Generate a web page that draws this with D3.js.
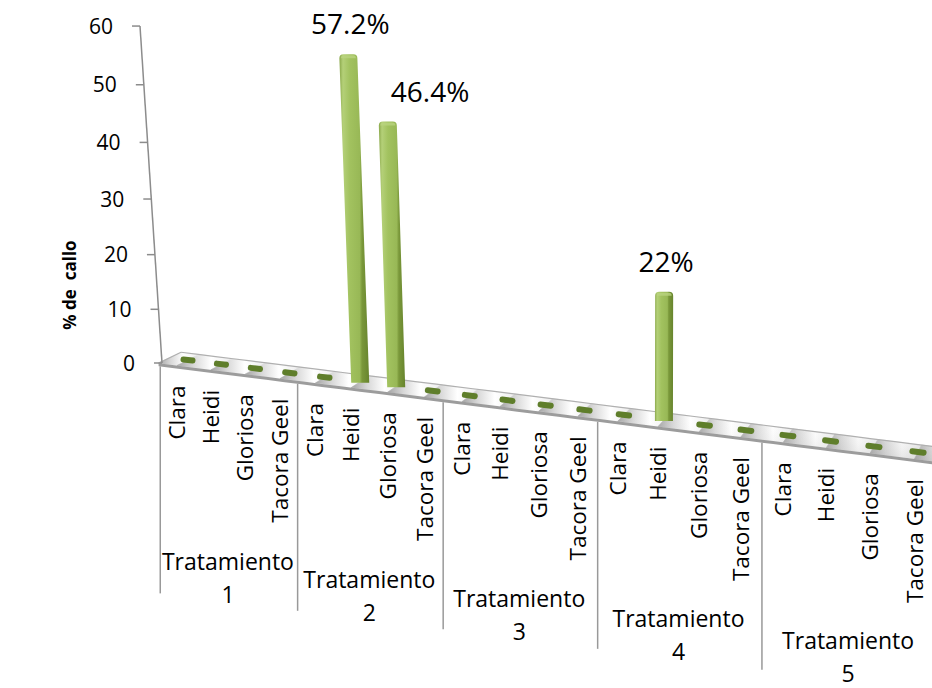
<!DOCTYPE html>
<html>
<head>
<meta charset="utf-8">
<script src="https://cdn.jsdelivr.net/npm/d3@7"></script>
<style>
  html, body { margin: 0; padding: 0; background: #ffffff; }
  svg { display: block; }
  text { font-family: "Open Sans", "DejaVu Sans", sans-serif; fill: #000; }
</style>
</head>
<body>
<svg id="chart" width="932" height="688"></svg>
<script>
// ---- data ----
const treatments = ["Tratamiento 1", "Tratamiento 2", "Tratamiento 3", "Tratamiento 4", "Tratamiento 5"];
const varieties = ["Clara", "Heidi", "Gloriosa", "Tacora Geel"];
const callusT1 = [0, 0, 0, 0];
const callusT2 = [0, 57.2, 46.4, 0];
const callusT3 = [0, 0, 0, 0];
const callusT4 = [0, 22, 0, 0];
const callusT5 = [0, 0, 0, 0];
const yTicks = [0, 10, 20, 30, 40, 50, 60];
const yTitle = "% de  callo";

const seriesByTreatment = [callusT1, callusT2, callusT3, callusT4, callusT5];
const rows = [];
treatments.forEach((t, g) => varieties.forEach((v, j) => {
  rows.push({ treatment: t, variety: v, value: seriesByTreatment[g][j], key: t + "|" + v, group: g });
}));

const svg = d3.select("#chart");
const defs = svg.append("defs");

// ---- scales (world space) ----
const slot = d3.scalePoint().domain(rows.map(d => d.key)).range([0, 1]);   // position along the floor
const step = slot.step();                                                   // one category in floor units
const height01 = d3.scaleLinear().domain([0, 60]).range([0, 1]);           // value -> normalized height

// ---- perspective projection of the 3-D box onto the page ----
const floorX = s => (188 + 605.7 * s) / (1 - 0.1354 * s);                 // centre line x
const floorY = x => 360 + 0.126 * (x - 188);                               // centre line y
const depthDX = d3.scaleLinear().domain([0, 1]).range([11, 3.5]);          // half-depth of floor slab
const depthDY = d3.scaleLinear().domain([0, 1]).range([-5.5, -7]);
const nearScale = d3.scaleLinear().domain([0, 1]).range([0.99, 1.112]);   // foreshortening of heights
const wallY = t => (363 - 338.3 * t) / (1 - 0.052 * t);                    // height on the back axis
const axisX = y => 162 - 22 * (363 - y) / 337;                             // tilted value axis
const lean = x => (x - 650) / 8000;                                        // vertical convergence

const centre = s => { const x = floorX(s); return { x, y: floorY(x) }; };
const front = s => { const c = centre(s); return { x: c.x - depthDX(s), y: c.y - depthDY(s) }; };
const back = s => { const c = centre(s); return { x: c.x + depthDX(s), y: c.y + depthDY(s) }; };
const barHeight = (v, s) => (363 - wallY(height01(v))) * nearScale(s);

// ---- gradients ----
const barGrad = defs.append("linearGradient").attr("id", "barGrad").attr("x1", 0).attr("x2", 1).attr("y1", 0).attr("y2", 0);
[[0, "#8aa84a"], [0.12, "#b4d078"], [0.35, "#a2c25f"], [0.68, "#98b856"], [0.76, "#7a983a"], [1, "#67842d"]]
  .forEach(([o, c]) => barGrad.append("stop").attr("offset", o).attr("stop-color", c));

const cellGrad = defs.append("linearGradient").attr("id", "cellGrad").attr("x1", 0).attr("x2", 1).attr("y1", 0).attr("y2", 0);
[[0, "#a4a4a4"], [0.3, "#d8d8d8"], [0.62, "#ffffff"], [1, "#ececec"]]
  .forEach(([o, c]) => cellGrad.append("stop").attr("offset", o).attr("stop-color", c));

const depthGrad = defs.append("linearGradient").attr("id", "depthGrad").attr("x1", 0).attr("x2", 0).attr("y1", 0).attr("y2", 1);
[[0, "#ffffff", 0.0], [0.55, "#ffffff", 0.0], [1, "#9a9a9a", 0.35]]
  .forEach(([o, c, a]) => depthGrad.append("stop").attr("offset", o).attr("stop-color", c).attr("stop-opacity", a));

// ---- floor slab ----
const sStart = slot(rows[0].key) - 0.55 * step;
const sEnd = slot(rows[rows.length - 1].key) + 1.5 * step;
const samples = d3.range(0, 41).map(i => sStart + (sEnd - sStart) * i / 40);
const floorG = svg.append("g");

// per-category shading cells along the slab
const cellEdges = [sStart].concat(d3.range(0, 21).map(i => i * step));
for (let i = 0; i < cellEdges.length - 1; i++) {
  const a = cellEdges[i], b = cellEdges[i + 1];
  const pts = [back(a), back(b), front(b), front(a)];
  floorG.append("path")
    .attr("d", "M" + pts.map(p => p.x + "," + p.y).join("L") + "Z")
    .attr("fill", "url(#cellGrad)")
    .attr("stroke", "url(#cellGrad)").attr("stroke-width", 0.6);
}
// depth shading and edges
floorG.append("path")
  .attr("d", "M" + samples.map(s => back(s)).concat(samples.slice().reverse().map(s => front(s)))
    .map(p => p.x + "," + p.y).join("L") + "Z")
  .attr("fill", "url(#depthGrad)");
floorG.append("path")
  .attr("d", d3.line().x(p => p.x).y(p => p.y)(samples.map(back)))
  .attr("fill", "none").attr("stroke", "#b0b0b0").attr("stroke-width", 1.2);
floorG.append("line")
  .attr("x1", back(sStart).x).attr("y1", back(sStart).y)
  .attr("x2", front(sStart).x).attr("y2", front(sStart).y)
  .attr("stroke", "#b0b0b0").attr("stroke-width", 1.2);
// front thickness of slab
floorG.append("path")
  .attr("d", "M" + samples.map(front).map(p => p.x + "," + p.y).join("L") +
             "L" + samples.slice().reverse().map(front).map(p => p.x + "," + (p.y + 3)).join("L") + "Z")
  .attr("fill", "#9c9c9c");

// ---- value axis ----
const axisG = svg.append("g");
axisG.append("line")
  .attr("x1", axisX(wallY(height01(60)))).attr("y1", wallY(height01(60)))
  .attr("x2", axisX(wallY(height01(0)))).attr("y2", wallY(height01(0)))
  .attr("stroke", "#8c8c8c").attr("stroke-width", 1.5);
const tick = axisG.selectAll("g.tick").data(yTicks).join("g").attr("class", "tick");
tick.append("line")
  .attr("x1", d => axisX(wallY(height01(d))) - 8).attr("x2", d => axisX(wallY(height01(d))))
  .attr("y1", d => wallY(height01(d))).attr("y2", d => wallY(height01(d)))
  .attr("stroke", "#8c8c8c").attr("stroke-width", 1.5);
tick.append("text")
  .attr("x", d => axisX(wallY(height01(d))) - 27)
  .attr("y", d => wallY(height01(d)))
  .attr("dy", "0.36em")
  .attr("text-anchor", "end")
  .style("font-size", "21px")
  .text(d => d);

svg.append("text")
  .attr("transform", "translate(70,285) rotate(-90)")
  .attr("text-anchor", "middle").attr("dy", "0.36em")
  .style("font-size", "17px").style("font-weight", "bold").style("white-space", "pre")
  .text(yTitle);

// ---- zero-value markers ----
const slopeDeg = Math.atan(0.126) * 180 / Math.PI;
svg.append("g").selectAll("rect").data(rows.filter(d => d.value === 0)).join("rect")
  .attr("transform", d => { const c = centre(slot(d.key)); return `translate(${c.x},${c.y}) rotate(${slopeDeg})`; })
  .attr("x", d => -7.5 * (1 + 0.15 * slot(d.key))).attr("y", -3)
  .attr("width", d => 15 * (1 + 0.15 * slot(d.key))).attr("height", 6)
  .attr("rx", 2.8)
  .attr("fill", "#5f7e2b");

// ---- bars ----
const barW = 18, capR = 4;
const bars = rows.filter(d => d.value > 0).map(d => {
  const s = slot(d.key);
  const b = centre(s);
  const h = barHeight(d.value, s);
  const t = { x: b.x + lean(b.x) * h, y: b.y - h };
  return Object.assign({}, d, { s, b, t, h });
});
const barG = svg.append("g");
barG.selectAll("path.bar").data(bars).join("path").attr("class", "bar")
  .attr("d", d => {
    const w = barW / 2, b = d.b, t = d.t;
    return `M${b.x - w},${b.y + 1}L${t.x - w},${t.y + capR}Q${t.x - w},${t.y} ${t.x - w + capR},${t.y}` +
           `L${t.x + w - capR},${t.y}Q${t.x + w},${t.y} ${t.x + w},${t.y + capR}L${b.x + w},${b.y + 1}Z`;
  })
  .attr("fill", "url(#barGrad)");
// lighter rounded top face
barG.selectAll("path.cap").data(bars).join("path").attr("class", "cap")
  .attr("d", d => {
    const w = barW / 2 - 1.5, t = d.t;
    return `M${t.x - w},${t.y + 4}Q${t.x - w},${t.y + 1} ${t.x - w + 3},${t.y + 1}L${t.x + w - 3},${t.y + 1}` +
           `Q${t.x + w},${t.y + 1} ${t.x + w},${t.y + 4}Z`;
  })
  .attr("fill", "#b9d37f").attr("opacity", 0.8);

// ---- value labels ----
// a label that would run into a taller neighbour on its left starts at its own bar instead
const tallerLeft = d => bars.find(o => o.group === d.group && o.s < d.s && o.value > d.value);
svg.append("g").selectAll("text").data(bars).join("text")
  .attr("x", d => tallerLeft(d) ? d.t.x + 3 : d.t.x + 2)
  .attr("text-anchor", d => tallerLeft(d) ? "start" : "middle")
  .attr("y", d => d.t.y - 20)
  .style("font-size", "28px")
  .text(d => d.value + "%");

// ---- category axis: varieties, dividers, treatments ----
const catG = svg.append("g");
catG.selectAll("text").data(rows).join("text")
  .attr("transform", d => { const f = front(slot(d.key)); return `translate(${f.x},${f.y + 20}) rotate(-90)`; })
  .attr("text-anchor", "end").attr("dy", "0.36em")
  .style("font-size", "22.5px")
  .text(d => d.variety);

const dividerS = d3.range(0, treatments.length + 1).map(g => g * 4 * step - 0.5 * step);
catG.selectAll("line").data(dividerS).join("line")
  .attr("x1", s => front(s).x).attr("x2", s => front(s).x)
  .attr("y1", s => front(s).y + 3).attr("y2", s => front(s).y + 230)
  .attr("stroke", "#999999").attr("stroke-width", 1.5);

const groupT = catG.selectAll("text.group").data(treatments).join("text").attr("class", "group")
  .attr("text-anchor", "middle")
  .style("font-size", "23px");
groupT.each(function (t, g) {
  const f = front((g * 4 + 1.5) * step);
  const parts = t.split(" ");
  d3.select(this).selectAll("tspan").data(parts).join("tspan")
    .attr("x", f.x).attr("y", (p, k) => f.y + 198 + k * 33)
    .text(p => p);
});
</script>
</body>
</html>
